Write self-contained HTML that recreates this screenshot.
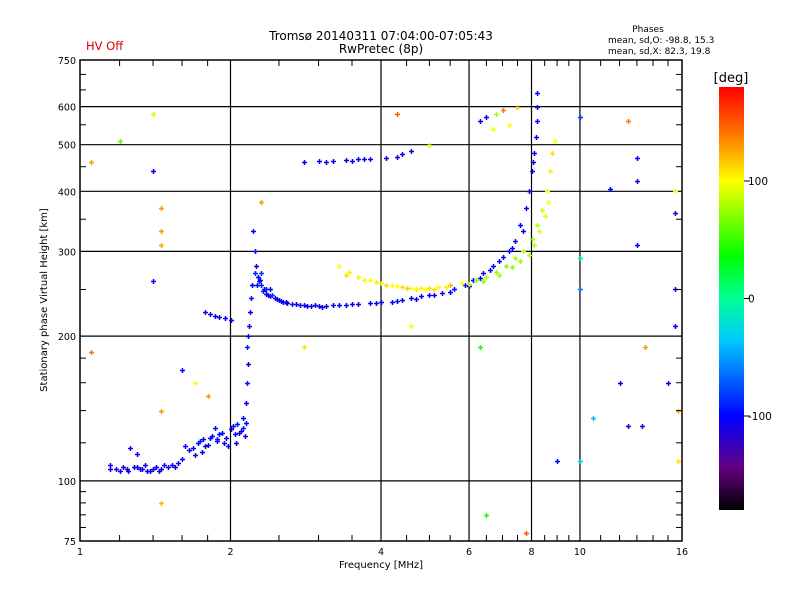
<!DOCTYPE html>
<html><head><meta charset="utf-8">
<style>
body{margin:0;background:#fff;}
svg{display:block;font-family:"DejaVu Sans","Liberation Sans",sans-serif;}
</style></head>
<body>
<svg id="chart" width="800" height="600" viewBox="0 0 800 600">
<rect width="800" height="600" fill="#fff"/>
<text x="86" y="50" font-size="11.5" fill="#e00000">HV Off</text>
<text x="381" y="40" font-size="12" text-anchor="middle" fill="#000">Tromsø 20140311 07:04:00-07:05:43</text>
<text x="381" y="53" font-size="12" text-anchor="middle" fill="#000">RwPretec (8p)</text>
<text x="648" y="32" font-size="9" text-anchor="middle">Phases</text>
<text x="608" y="43" font-size="9">mean, sd,O: -98.8, 15.3</text>
<text x="608" y="54" font-size="9">mean, sd,X:  82.3, 19.8</text>
<g id="grid"></g>
<g id="marks"></g>
<rect x="80" y="60" width="602" height="481" fill="none" stroke="#000" stroke-width="1.5"/>
<g id="ticks"></g>
<text x="381" y="568" font-size="10" text-anchor="middle">Frequency [MHz]</text>
<text transform="translate(47,300) rotate(-90)" font-size="10" text-anchor="middle">Stationary phase Virtual Height [km]</text>
<defs><linearGradient id="cb" x1="0" y1="1" x2="0" y2="0">
<stop offset="0" stop-color="#000"/><stop offset="0.1" stop-color="#640082"/><stop offset="0.22" stop-color="#0000ff"/><stop offset="0.4" stop-color="#00c8ff"/><stop offset="0.5" stop-color="#00ff96"/><stop offset="0.6" stop-color="#00ff00"/><stop offset="0.78" stop-color="#ffff00"/><stop offset="0.88" stop-color="#ff8000"/><stop offset="1" stop-color="#ff0000"/>
</linearGradient></defs>
<rect x="719" y="87" width="25" height="423" fill="url(#cb)"/>
<text x="731" y="82" font-size="13" text-anchor="middle">[deg]</text>
<g id="cbticks"></g>
</svg>
<script>
const NS="http://www.w3.org/2000/svg";
const xTickVals=[1,2,4,6,8,10,16];
const xGridVals=[2,4,6,8,10];
const yTickVals=[75,100,200,300,400,500,600,750];
const yGridVals=[100,200,300,400,500,600];
const cbTickVals=[100,0,-100];
const freq=[1.15,1.15,1.22,1.25,1.28,1.32,1.35,1.38,1.42,1.45,1.5,1.53,1.57,1.6,
1.26,1.3,1.62,1.68,1.72,1.76,1.8,1.84,1.88,1.92,1.96,2.0,2.04,2.06,2.1,2.12,2.14,2.15,1.7,1.86,1.98,
2.15,2.16,2.17,2.16,2.17,2.18,2.19,2.2,2.21,
1.78,1.82,1.86,1.9,1.95,2.0,
2.22,2.24,2.25,2.27,2.3,2.33,2.36,2.4,2.45,2.5,2.55,2.6,2.7,2.8,2.9,3.0,3.1,3.2,3.3,3.4,3.6,3.8,4.0,4.2,4.4,4.6,4.8,5.0,5.3,5.6,5.9,6.1,6.4,6.7,7.0,7.2,7.4,7.6,7.8,7.9,8.0,8.1,8.15,8.2,8.2,8.2,2.3,2.4,2.28,
3.3,3.45,3.6,3.8,4.0,4.2,4.4,4.6,4.8,5.0,5.2,5.5,5.8,6.2,6.5,6.8,7.1,7.4,7.7,8.0,8.2,8.4,8.6,8.7,8.8,8.9,
2.8,3.0,3.2,3.4,3.6,3.8,4.1,4.4,4.6,
6.3,6.5,6.7,7.0,7.5,6.8,7.2,
1.05,1.05,1.2,1.4,1.45,1.45,1.45,1.4,1.4,1.45,1.45,1.6,1.7,1.8,2.3,2.8,4.3,4.6,5.0,6.3,6.5,7.8,10,10,10,10,11.5,12.5,13,13,13,13.5,13.3,15.5,15.5,15.5,15,15.7,15.7,15.5,9.0,10.6,12,12.5,
1.18,1.24,1.3,1.36,1.4,1.47,1.55,1.2,1.33,1.44,
1.65,1.74,1.78,1.82,1.9,1.94,2.02,2.08,2.12,1.75,1.88,2.05,
2.24,2.26,2.29,2.32,2.35,2.38,2.42,2.48,2.52,2.58,2.65,2.75,2.85,2.95,3.05,3.5,3.9,4.3,4.7,5.1,5.5,6.0,6.3,6.6,6.9,7.3,7.7,8.05,
3.4,3.7,3.9,4.1,4.3,4.5,4.7,4.9,5.1,5.4,6.0,6.4,6.9,7.3,7.6,7.9,8.1,8.3,8.5,8.65,
3.1,3.5,3.7,4.3];
const height=[108,106,107,105,107,106,108,105,107,106,107,108,109,111,
117,114,118,117,120,122,119,124,121,126,123,128,125,131,127,135,124,132,113,129,118,
145,160,175,190,200,210,225,240,255,
224,222,220,219,218,216,
330,300,280,265,255,250,245,242,240,238,236,234,233,232,231,231,231,232,232,232,233,234,235,236,238,240,242,244,246,250,256,262,270,280,292,300,315,340,370,400,440,480,520,560,600,640,270,250,260,
280,272,266,262,258,255,253,252,252,252,253,255,258,262,266,272,280,290,300,318,340,365,400,440,480,510,
460,462,463,465,466,466,470,478,485,
560,570,540,590,600,580,550,
185,460,510,580,370,330,310,440,260,140,90,170,160,150,380,190,580,210,500,190,85,78,570,290,110,250,405,560,470,420,310,190,130,250,210,360,160,140,110,400,110,135,160,130,
106,106,107,105,106,108,107,105,106,105,
116,121,118,123,125,120,130,126,129,115,122,120,
270,255,262,248,250,243,244,239,237,235,233,232,231,232,230,233,234,237,239,243,247,254,264,274,287,305,330,460,
268,262,259,256,254,252,250,251,251,253,257,261,268,278,286,295,310,330,355,380,
460,462,467,472];
const phase=[-110,-105,-110,-100,-108,-105,-112,-100,-106,-104,-110,-100,-105,-100,
-110,-105,-100,-108,-100,-105,-110,-100,-108,-100,-105,-110,-100,-95,-105,-100,-108,-100,-110,-95,-100,
-100,-95,-105,-90,-100,-110,-100,-95,-100,
-110,-105,-100,-110,-100,-105,
-100,-95,-105,-100,-90,-100,-105,-110,-100,-95,-100,-110,-100,-105,-110,-100,-105,-110,-100,-105,-110,-100,-105,-100,-110,-100,-105,-100,-110,-100,-105,-100,-110,-100,-105,-100,-110,-100,-105,-100,-110,-100,-105,-100,-95,-100,-85,-100,-90,
100,105,95,100,105,100,110,100,105,110,100,120,100,70,80,75,70,80,85,75,80,90,100,105,110,100,
-105,-100,-110,-100,-105,-100,-110,-100,-105,
-110,-100,100,140,120,80,100,
140,130,60,90,130,130,125,-100,-110,130,120,-100,100,130,130,110,150,100,90,40,40,150,-80,-10,-30,-60,-100,140,-100,-110,-100,130,-120,-100,-100,-110,-100,120,110,100,-100,-40,-100,-110,
-115,-105,-110,-100,-115,-105,-110,-100,-110,-105,
-100,-90,-110,-100,-95,-105,-100,-110,-90,-100,-95,-105,
-90,-100,-110,-95,-100,-105,-85,-110,-100,-105,-95,-115,-100,-110,-105,-100,-110,-100,-105,-110,-100,-115,-110,-105,-110,-100,-105,-100,
110,100,105,110,100,115,105,100,110,105,85,70,75,70,75,80,85,90,95,100,
-110,-105,-100,-110];
const X0=80,X1=682,Y0=541,Y1=60;
const xs=f=>X0+(Math.log(f)/Math.log(16))*(X1-X0);
const ys=h=>Y0-(Math.log10(h/75))*(Y0-Y1);
const cbY=v=>510-(v+180)/360*423;
function col(v){
 const st=[[0,0,0,0],[0.1,100,0,130],[0.22,0,0,255],[0.4,0,200,255],[0.5,0,255,150],[0.6,0,255,0],[0.78,255,255,0],[0.88,255,128,0],[1,255,0,0]];
 let t=Math.max(0,Math.min(1,(v+180)/360));
 for(let i=1;i<st.length;i++){if(t<=st[i][0]){const a=st[i-1],b=st[i],u=(t-a[0])/(b[0]-a[0]);
 return `rgb(${Math.round(a[1]+u*(b[1]-a[1]))},${Math.round(a[2]+u*(b[2]-a[2]))},${Math.round(a[3]+u*(b[3]-a[3]))})`;}}
 return "rgb(255,0,0)";
}
function mk(tag,attrs,parent){const e=document.createElementNS(NS,tag);for(const k in attrs)e.setAttribute(k,attrs[k]);parent.appendChild(e);return e;}
const grid=document.getElementById('grid'),ticks=document.getElementById('ticks'),marks=document.getElementById('marks'),cbt=document.getElementById('cbticks');
xGridVals.forEach(v=>{const l=mk('line',{x1:xs(v),x2:xs(v),y1:Y1,y2:Y0,stroke:'#000','stroke-width':1.2},grid);

});
yGridVals.forEach(v=>{const l=mk('line',{x1:X0,x2:X1,y1:ys(v),y2:ys(v),stroke:'#000','stroke-width':1.2},grid);

});
const minorX=[1.2,1.4,1.6,1.8,2.5,3,3.5,4.5,5,5.5,6.5,7,7.5,8.5,9,9.5,11,12,13,14,15];
minorX.forEach(v=>{[[Y0,Y0-6],[Y1,Y1+6]].forEach(p=>{mk('line',{x1:xs(v),x2:xs(v),y1:p[0],y2:p[1],stroke:'#000'},ticks);});});
const minorY=[80,85,90,95,120,140,160,180,250,350,450,550,650,700];
minorY.forEach(v=>{[[X0,X0+6],[X1,X1-6]].forEach(p=>{mk('line',{x1:p[0],x2:p[1],y1:ys(v),y2:ys(v),stroke:'#000'},ticks);});});
xTickVals.forEach(v=>{const t=mk('text',{x:xs(v),y:555,'font-size':9.5,'text-anchor':'middle'},ticks);t.textContent=v;

});
yTickVals.forEach(v=>{const t=mk('text',{x:76,y:ys(v)+4,'font-size':9.5,'text-anchor':'end'},ticks);t.textContent=v;

});
cbTickVals.forEach(v=>{mk('line',{x1:744,x2:750,y1:cbY(v),y2:cbY(v),stroke:'#000'},cbt);
const t=mk('text',{x:748,y:cbY(v)+4,'font-size':10.5},cbt);t.textContent=v;

});
for(let i=0;i<freq.length;i++){
 const x=Math.round(xs(freq[i])),y=Math.round(ys(height[i])),c=col(phase[i]);
 const p=mk('path',{d:`M${x-2} ${y+0.5}h5M${x+0.5} ${y-2}v5`,stroke:c,'stroke-width':1.5},marks);
 
 
}
</script>
</body></html>
